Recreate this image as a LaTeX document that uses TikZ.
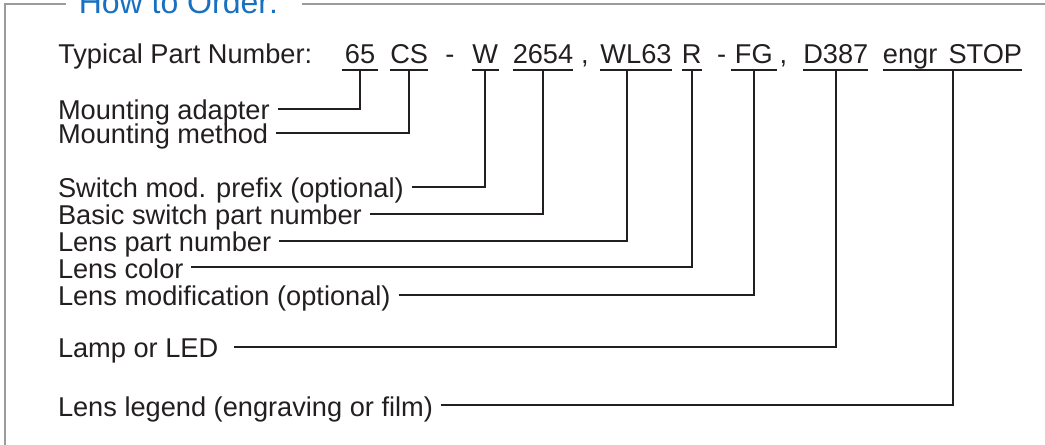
\documentclass[tikz,border=0pt]{standalone}
\usepackage{fontspec}
\setmainfont{Liberation Sans}
\definecolor{azul}{RGB}{24,112,192}
\definecolor{cinza}{RGB}{155,155,155}
\definecolor{tinta}{RGB}{35,31,32}

\begin{document}
\begin{tikzpicture}[
                x=0.75pt, y=-0.75pt,
                rotulo/.style={anchor=base west, inner xsep=0pt, inner ysep=0pt, outer xsep=6pt, outer ysep=0pt,
                    text height=16pt, text depth=0pt, text=tinta, font=\fontsize{20.4}{24}\selectfont},
                parte/.style={anchor=base, inner xsep=0pt, inner ysep=5pt, outer sep=0pt,
                    text depth=0pt, text=tinta, font=\fontsize{20.4}{24}\selectfont},
                sinal/.style={anchor=base, inner sep=0pt, text=tinta, font=\fontsize{20.4}{24}\selectfont},
                linha/.style={line width=1.5pt, draw=tinta},
                moldura/.style={line width=1.5pt, draw=cinza},
            ]
            \useasboundingbox (0,0) rectangle (1045,445);

            % moldura e titulo
            \node[anchor=base west, inner sep=0pt, text=azul, font=\fontsize{24}{28}\selectfont] (titulo) at (78.5,13.3) {How to Order:};
            \draw[moldura] (65.7,3.7) -- (5.3,3.7) -- (5.3,450);
            \draw[moldura] (301.7,3.7) -- (1050,3.7);

            % numero tipico
            \node[sinal, anchor=base west] (tipico) at (58,63.3) {Typical Part Number:};
            \node[parte, minimum width=27.5pt] (p65) at (360,63.3) {65};
            \node[parte, minimum width=27.8pt] (pcs) at (409.2,63.3) {CS};
            \node[sinal] (h1) at (450,63.3) {-};
            \node[parte, minimum width=20.5pt] (pw) at (485.3,63.3) {W};
            \node[parte, minimum width=42pt] (p2654) at (543,63.3) {2654};
            \node[sinal] (v1) at (585,63.3) {,};
            \node[parte, minimum width=51.8pt] (pwl) at (636,63.3) {WL63};
            \node[parte, minimum width=13.5pt] (pr) at (691.7,63.3) {R};
            \node[sinal] (h2) at (721.7,63.3) {-};
            \node[parte, minimum width=34.3pt] (pfg) at (753.8,63.3) {FG};
            \node[sinal] (v2) at (783.3,63.3) {,};
            \node[parte, minimum width=43.7pt] (pd) at (835.8,63.3) {D387};
            \node[parte, minimum width=101.8pt] (pstop) at (952.5,63.3) {engr\hspace{2.7pt} STOP};

            \foreach \p in {p65, pcs, pw, p2654, pwl, pr, pfg, pd, pstop}
                \draw[linha] (\p.south west) -- (\p.south east);

            % rotulos
            \node[rotulo] (a) at (50,119.4) {Mounting adapter};
            \node[rotulo] (b) at (50,143.9) {Mounting method};
            \node[rotulo] (c) at (50,197.4) {Switch mod. prefix (optional)};
            \node[rotulo] (d) at (50,224.2) {Basic switch part number};
            \node[rotulo] (e) at (50,251.7) {Lens part number};
            \node[rotulo] (f) at (50,278) {Lens color};
            \node[rotulo] (g) at (50,305.7) {Lens modification (optional)};
            \node[rotulo] (h) at (50,357.4) {Lamp or LED};
            \node[rotulo] (i) at (50,416) {Lens legend (engraving or film)};

            \draw[linha] (a.east) -| (p65.south);
            \draw[linha] (b.east) -| (pcs.south);
            \draw[linha] (c.east) -| (pw.south);
            \draw[linha] (d.east) -| (p2654.south);
            \draw[linha] (e.east) -| ([xshift=-7pt]pwl.south);
            \draw[linha] (f.east) -| (pr.south);
            \draw[linha] (g.east) -| (pfg.south);
            \draw[linha] ([xshift=6pt]h.east) -| (pd.south);
            \draw[linha] (i.east) -| (pstop.south);
        \end{tikzpicture}
\end{document}
